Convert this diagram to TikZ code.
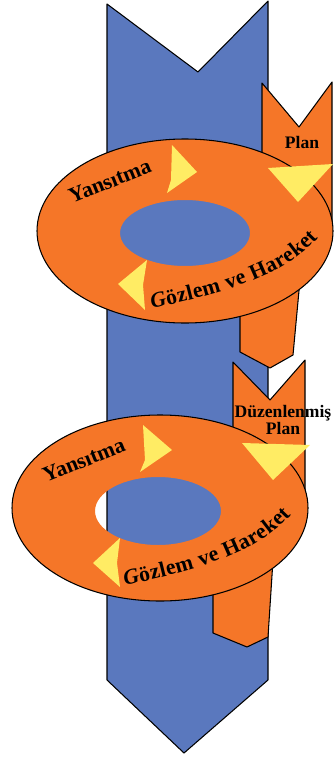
\documentclass[tikz,border=0pt]{standalone}
\usepackage{fontspec}
\setmainfont{Liberation Serif}
\usetikzlibrary{decorations.text}
\definecolor{colblue}{RGB}{90,120,190}
\definecolor{ringorange}{RGB}{245,118,40}
\definecolor{tipyellow}{RGB}{255,236,100}
\newcommand\ringfont{\bfseries\fontsize{18.5}{18.5}\selectfont}

\begin{document}
\begin{tikzpicture}[x=0.03cm, y=-0.03cm,
  outline/.style={draw=black, line width=0.9pt, line join=round},
  ringtext/.style={font=\ringfont, inner sep=0pt, rotate=22, anchor=base west},
  plantext/.style={font=\bfseries\fontsize{15}{12}\selectfont, inner sep=0pt, align=center},
  arctext/.style={decorate, decoration={text along path, text align=fit to path,
    text={|\ringfont\itshape|G|\ringfont\upshape|özlem ve Hareket}}}]
\useasboundingbox (0,0) rectangle (334,762);

\filldraw[colblue, outline] (107,4) -- (198,72) -- (268,1) -- (268,680) -- (184,753) -- (107,680) -- cycle;

\filldraw[ringorange, outline] (262,83) -- (299,127) -- (332,82) -- (332,225) -- (300,280) -- (293,355) -- (270,368) -- (240,352) -- (240,312) -- (262,295) -- cycle;
\filldraw[ringorange, outline] (233,362) -- (270,400) -- (305,360) -- (305,490) -- (273,560) -- (268,637) -- (247,647) -- (213,633) -- (213,585) -- (233,560) -- cycle;

\fill[ringorange, even odd rule] (185,231) ellipse [x radius=148, y radius=92] (185,233) ellipse [x radius=65, y radius=33];
\draw[outline] (185,231) ellipse [x radius=148, y radius=92];
\fill[tipyellow] (172,145) -- (197,172) -- (167,193) -- (171,180) -- cycle;
\fill[tipyellow] (268,168) -- (333,164) -- (298,202) -- cycle;
\fill[tipyellow] (147,260) -- (118,284) -- (145,310) -- (143,285) -- cycle;
\node[ringtext] (yansitmaA) at (72,204) {Yansıtma};
\node[plantext] (planA) at (302,142) {Plan};
\path[arctext] (152,309) .. controls (206,296) and (278,282) .. (318,238);

\fill[ringorange, even odd rule] (160,508) ellipse [x radius=148, y radius=93] (158,511) ellipse [x radius=63, y radius=34];
\draw[outline] (160,508) ellipse [x radius=148, y radius=93];
\fill[tipyellow] (143,425) -- (172,450) -- (140,472) -- (145,460) -- cycle;
\fill[tipyellow] (242,443) -- (310,445) -- (273,480) -- cycle;
\fill[tipyellow] (120,538) -- (93,563) -- (120,587) -- (117,563) -- cycle;
\node[ringtext] (yansitmaB) at (46,483) {Yansıtma};
\node[plantext] (planB) at (283,420) {Düzenlenmiş\\Plan};
\path[arctext] (125,586) .. controls (179,573) and (251,559) .. (291,515);
\end{tikzpicture}
\end{document}
